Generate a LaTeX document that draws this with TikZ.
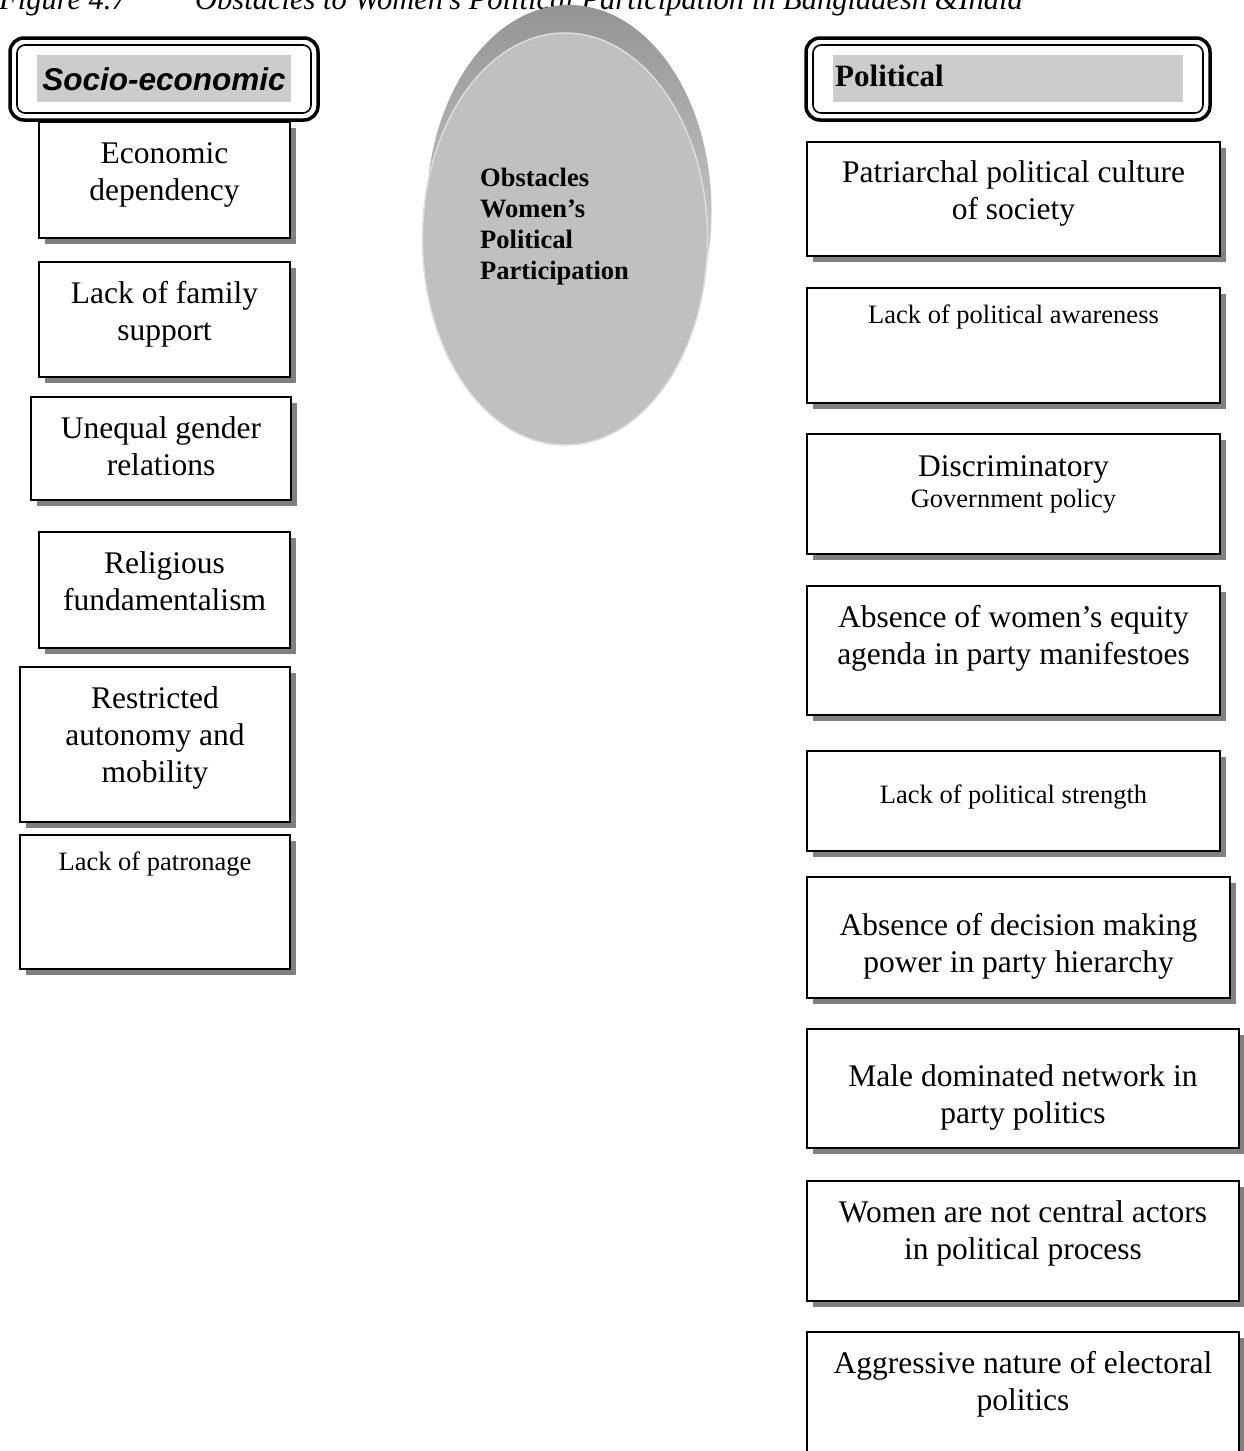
\documentclass[tikz,border=0pt]{standalone}
\usepackage{fontspec}
\setmainfont{Liberation Serif}
\newfontfamily\arialf{Liberation Sans}
\usetikzlibrary{shapes.geometric}
\definecolor{shadowgray}{HTML}{808080}
\definecolor{hdrgray}{HTML}{CCCCCC}
\definecolor{ellfront}{HTML}{C0C0C0}
\definecolor{rimlight}{HTML}{DCDCDC}
\tikzset{
  obox/.style={draw=black, line width=1.8pt, fill=white, inner sep=0pt, rectangle},
  bigtxt/.style={align=center, inner sep=0pt, font={\fontsize{31.5}{37}\selectfont}},
  smalltxt/.style={align=center, inner sep=0pt, font={\fontsize{26.5}{31}\selectfont}},
  ctxt/.style={align=left, inner sep=0pt, font={\bfseries\fontsize{26.5}{31}\selectfont}},
  ttl/.style={inner sep=0pt, font={\itshape\fontsize{30.5}{34}\selectfont}},
  hdrout/.style={draw=black, line width=3.5pt, rounded corners=14pt, inner sep=0pt, rectangle},
  hdrin/.style={draw=black, line width=1.6pt, rounded corners=8pt, inner sep=0pt, rectangle},
  hdrbg/.style={fill=hdrgray, inner sep=0pt, rectangle},
}
% box with drop shadow: name, x1, y1, x2, y2
\newcommand{\obsbox}[5]{%
  \fill[shadowgray] (#2+6,#3+6) rectangle (#4+6,#5+6);
  \node[obox, minimum width={#4-#2}, minimum height={#5-#3}] (#1) at ({(#2+#4)/2},{(#3+#5)/2}) {};
}
\begin{document}
\begin{tikzpicture}[x=1pt,y=-1pt]
\useasboundingbox (0,0) rectangle (1244,1451);
\fill[white] (0,0) rectangle (1244,1451);

% title (top clipped as in the reference)
\node[ttl, anchor=base east] (fig) at (127,9) {Figure 4.7};
\node[ttl, anchor=base west] (cap) at (195,9) {Obstacles to Women’s Political Participation in Bangladesh \&India};

% central ellipse (extruded look)
\node[ellipse, minimum width=285pt, minimum height=412pt, inner sep=0pt,
      top color=black!42, middle color=black!18, bottom color=black!8] (coreback) at (569,211) {};
\node[ellipse, minimum width=285pt, minimum height=412pt, inner sep=0pt,
      fill=ellfront, draw=rimlight, line width=1.5pt] (core) at (565,239) {};
\node[ctxt, anchor=base west] (coret) at (480,279) {Obstacles\\Women’s\\Political\\Participation};

% left header
\node[hdrout, minimum width=308pt, minimum height=82pt] (lhdr) at (164,79) {};
\node[hdrin, minimum width=294pt, minimum height=68pt] (lhdrin) at (164,79) {};
\node[hdrbg, minimum width=254pt, minimum height=47pt] (lhbg) at (164,78.5) {};
\node[anchor=base, inner sep=0pt, font={\arialf\bfseries\itshape\fontsize{31.5}{36}\selectfont}] (lht) at (164,90) {Socio-economic};

% right header
\node[hdrout, minimum width=404pt, minimum height=82pt] (rhdr) at (1008,79) {};
\node[hdrin, minimum width=390pt, minimum height=68pt] (rhdrin) at (1008,79) {};
\node[hdrbg, minimum width=350pt, minimum height=47pt] (rhbg) at (1008,78.5) {};
\node[anchor=base west, inner sep=0pt, font={\bfseries\fontsize{31}{36}\selectfont}] (rht) at (835,86) {Political};

% left boxes (base anchor = baseline of last line)
\obsbox{l1}{39}{122}{290}{238}
\node[bigtxt, anchor=base] (l1t) at (164.5,200) {Economic\\dependency};
\obsbox{l2}{39}{262}{290}{377}
\node[bigtxt, anchor=base] (l2t) at (164.5,340) {Lack of family\\support};
\obsbox{l3}{31}{397}{291}{500}
\node[bigtxt, anchor=base] (l3t) at (161,475) {Unequal gender\\relations};
\obsbox{l4}{39}{532}{290}{648}
\node[bigtxt, anchor=base] (l4t) at (164.5,610) {Religious\\fundamentalism};
\obsbox{l5}{20}{667}{290}{822}
\node[bigtxt, anchor=base] (l5t) at (155,782) {Restricted\\autonomy and\\mobility};
\obsbox{l6}{20}{835}{290}{969}
\node[smalltxt, anchor=base] (l6t) at (155,870) {Lack of patronage};

% right boxes
\obsbox{r1}{807}{142}{1220}{256}
\node[bigtxt, anchor=base] (r1t) at (1013.5,219) {Patriarchal political culture\\of society};
\obsbox{r2}{807}{288}{1220}{403}
\node[smalltxt, anchor=base] (r2t) at (1013.5,323) {Lack of political awareness};
\obsbox{r3}{807}{434}{1220}{554}
\node[bigtxt, anchor=base] (r3t) at (1013.5,476) {Discriminatory};
\node[smalltxt, anchor=base] (r3s) at (1013.5,507) {Government policy};
\obsbox{r4}{807}{586}{1220}{715}
\node[bigtxt, anchor=base] (r4t) at (1013.5,664) {Absence of women’s equity\\agenda in party manifestoes};
\obsbox{r5}{807}{751}{1220}{851}
\node[smalltxt, anchor=base] (r5t) at (1013.5,803) {Lack of political strength};
\obsbox{r6}{807}{877}{1230}{998}
\node[bigtxt, anchor=base] (r6t) at (1018.5,972) {Absence of decision making\\power in party hierarchy};
\obsbox{r7}{807}{1029}{1239}{1148}
\node[bigtxt, anchor=base] (r7t) at (1023,1123) {Male dominated network in\\party politics};
\obsbox{r8}{807}{1181}{1239}{1301}
\node[bigtxt, anchor=base] (r8t) at (1023,1259) {Women are not central actors\\in political process};
\obsbox{r9}{807}{1332}{1239}{1475}
\node[bigtxt, anchor=base] (r9t) at (1023,1410) {Aggressive nature of electoral\\politics};
\end{tikzpicture}
\end{document}
